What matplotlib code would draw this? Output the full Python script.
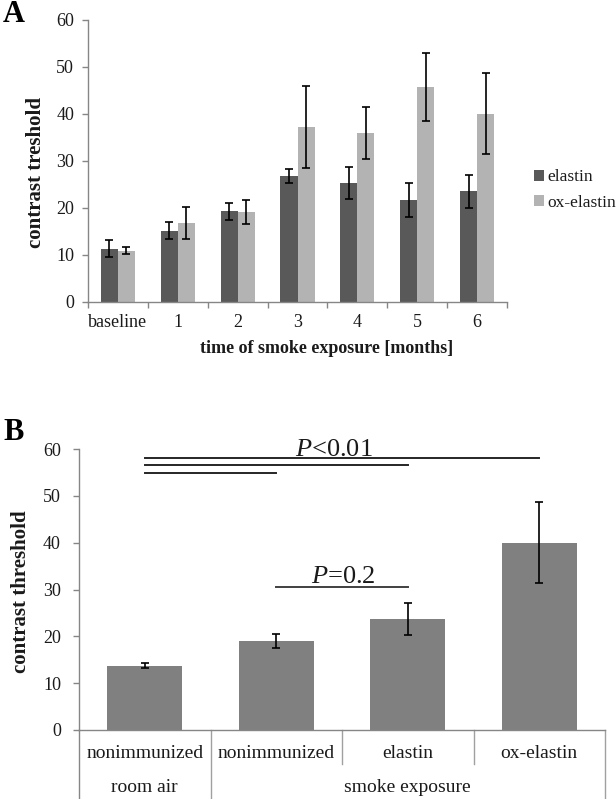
import numpy as np
import matplotlib
matplotlib.use("Agg")
import matplotlib.pyplot as plt

plt.rcParams['font.family'] = ['Liberation Serif', 'DejaVu Serif']
plt.rcParams['mathtext.fontset'] = 'custom'
plt.rcParams['mathtext.rm'] = 'Liberation Serif'
plt.rcParams['mathtext.it'] = 'Liberation Serif:italic'

# ---------------- data ----------------
months = ['baseline', '1', '2', '3', '4', '5', '6']
elastin = [11.3, 15.2, 19.3, 26.8, 25.4, 21.7, 23.6]
elastin_err = [1.8, 1.8, 1.8, 1.5, 3.4, 3.6, 3.5]
ox_elastin = [10.9, 16.9, 19.2, 37.3, 36.0, 45.8, 40.1]
ox_elastin_err = [0.75, 3.4, 2.5, 8.7, 5.5, 7.2, 8.6]

groups_b = ['nonimmunized', 'nonimmunized', 'elastin', 'ox-elastin']
conditions_b = ['room air', 'smoke exposure']
values_b = [13.7, 19.0, 23.65, 40.0]
err_b = [0.5, 1.5, 3.4, 8.6]
sig_pairs = [(0, 3, 58.1), (0, 2, 56.6), (0, 1, 54.8)]
ns_pair = (1, 2, 30.6)

W, H = 616, 799
def fx(x):
    return x / W
def fy(y):
    return 1 - y / H

AX_COL = '#868686'
TXT = '#1a1a1a'

fig = plt.figure(figsize=(W / 100, H / 100), dpi=100)

# ---------------- panel A ----------------
axA = fig.add_axes([fx(88), fy(302), 419 / W, 282 / H])
x = np.arange(len(months))
w = 0.285
ekw = dict(ecolor='black', elinewidth=1.2, capsize=3, capthick=1.2)
axA.bar(x - w / 2, elastin, w, color='#595959', yerr=elastin_err, error_kw=ekw, label='elastin')
axA.bar(x + w / 2, ox_elastin, w, color='#b3b3b3', yerr=ox_elastin_err, error_kw=ekw, label='ox-elastin')
axA.set_xlim(-0.5, len(months) - 0.5)
axA.set_ylim(0, 60)
axA.set_yticks(np.arange(0, 61, 10))
axA.set_xticks(x)
axA.set_xticklabels(months)
axA.set_xticks(np.arange(-0.5, len(months), 1), minor=True)
axA.tick_params(axis='x', which='major', length=0, pad=9, labelsize=13, labelcolor=TXT)
axA.tick_params(axis='x', which='minor', length=4, width=1, color=AX_COL, direction='out')
axA.tick_params(axis='y', length=4, width=1, color=AX_COL, pad=6, labelsize=13, labelcolor=TXT)
for s in ['top', 'right']:
    axA.spines[s].set_visible(False)
for s in ['left', 'bottom']:
    axA.spines[s].set_color(AX_COL)
    axA.spines[s].set_linewidth(1)

axA.legend(loc='center left', bbox_to_anchor=(fx(534), fy(190)), bbox_transform=fig.transFigure,
           frameon=False, handlelength=0.6, handleheight=0.6, handletextpad=0.15,
           labelspacing=0.55, borderpad=0, borderaxespad=0, fontsize=12.5, labelcolor=TXT)

fig.text(fx(36), fy(173), 'contrast treshold', rotation=90, ha='center', va='center',
         fontweight='bold', fontsize=15, color=TXT)
fig.text(fx(327), fy(349), 'time of smoke exposure [months]', ha='center', va='center',
         fontweight='bold', fontsize=13, color=TXT)
fig.text(fx(14), fy(14), 'A', ha='center', va='center', fontweight='bold', fontsize=22, color='black')

# ---------------- panel B ----------------
axB = fig.add_axes([fx(79), fy(730), 526 / W, 281 / H])
xb = np.arange(len(values_b))
axB.bar(xb, values_b, 0.57, color='#808080', yerr=err_b, error_kw=ekw)
axB.set_xlim(-0.5, len(values_b) - 0.5)
axB.set_ylim(0, 60)
axB.set_yticks(np.arange(0, 61, 10))
axB.set_xticks([])
axB.tick_params(axis='y', length=4, width=1, color=AX_COL, pad=9, labelsize=13, labelcolor=TXT)
for s in ['top', 'right']:
    axB.spines[s].set_visible(False)
for s in ['left', 'bottom']:
    axB.spines[s].set_color(AX_COL)
    axB.spines[s].set_linewidth(1)

# significance lines
for a, b, lvl in sig_pairs:
    axB.plot([xb[a], xb[b]], [lvl, lvl], color='#262626', lw=1.4, clip_on=False)
axB.plot([xb[ns_pair[0]], xb[ns_pair[1]]], [ns_pair[2]] * 2, color='#404040', lw=1.4, clip_on=False)
axB.text(1.44, 58.6, r'$P$<0.01', ha='center', va='baseline', fontsize=19, color=TXT, clip_on=False)
axB.text(1.51, 31.3, r'$P$=0.2', ha='center', va='baseline', fontsize=19, color=TXT, clip_on=False)

# category table below the axis
tr = axB.get_xaxis_transform()
px = 1 / 281.0
row1 = -24 * px
row2 = -58 * px
bottom = -70 * px
short = -34 * px
TAB_COL = '#a0a0a0'
for xv in [-0.5, 0.5, 3.5]:
    axB.plot([xv, xv], [0, bottom], color=AX_COL if xv == -0.5 else TAB_COL, lw=1,
             transform=tr, clip_on=False)
for xv in [1.5, 2.5]:
    axB.plot([xv, xv], [0, short], color=TAB_COL, lw=1, transform=tr, clip_on=False)
for i, g in enumerate(groups_b):
    axB.text(xb[i], row1, g, transform=tr, ha='center', va='center', fontsize=14, color=TXT)
axB.text(xb[0], row2, conditions_b[0], transform=tr, ha='center', va='center', fontsize=14, color=TXT)
axB.text(np.mean(xb[1:]), row2, conditions_b[1], transform=tr, ha='center', va='center', fontsize=14, color=TXT)

fig.text(fx(21), fy(592), 'contrast threshold', rotation=90, ha='center', va='center',
         fontweight='bold', fontsize=15, color=TXT)
fig.text(fx(14), fy(432), 'B', ha='center', va='center', fontweight='bold', fontsize=22, color='black')

fig.savefig('out.png', dpi=100)
